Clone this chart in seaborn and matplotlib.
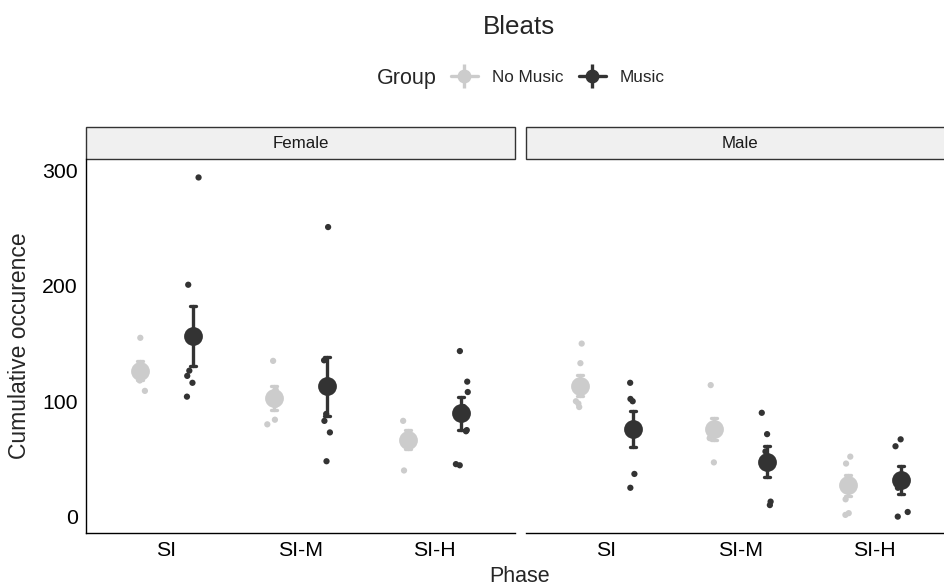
import numpy as np
import pandas as pd
import matplotlib
matplotlib.use("Agg")
import matplotlib.pyplot as plt
import seaborn as sns
from matplotlib.lines import Line2D
from matplotlib.patches import Rectangle

sns.set_style("white")
plt.rcParams['font.family'] = ['Liberation Sans', 'DejaVu Sans']

# ---------------- data ----------------
phases = ["SI", "SI-M", "SI-H"]
sexes = ["Female", "Male"]
groups = ["No Music", "Music"]

# individual observations, one list per phase
female_nomusic = [[155, 130, 124, 118, 109],
                  [135, 110, 104, 97, 84, 80],
                  [83, 73, 68, 62, 40]]
female_music = [[294, 201, 126.5, 122, 116, 104],
                [251, 135.5, 89, 83, 73, 48],
                [143.5, 117, 108, 95, 75, 74, 44.5, 45.5]]
male_nomusic = [[150, 133, 110, 100, 98, 95],
                [114, 80, 75, 68, 47],
                [52, 46, 25, 15, 3, 1.5]]
male_music = [[116, 102, 100, 73, 37, 25],
              [90, 71.5, 56.5, 45, 13, 10],
              [67, 61, 25, 4, 0]]

# group means and standard errors, per phase
female_nomusic_mean = [126.5, 103, 66.5]
female_nomusic_se = [8.5, 10.4, 8.3]
female_music_mean = [156.5, 113, 89.5]
female_music_se = [25.8, 25.5, 14.1]
male_nomusic_mean = [113.5, 76, 27]
male_nomusic_se = [9.3, 9.8, 9]
male_music_mean = [76, 47.5, 32]
male_music_se = [15.5, 13.3, 12]

colors = ["#CCCCCC", "#333333"]
palette = dict(zip(groups, colors))

# ---------------- tables ----------------
raw = {("Female", "No Music"): female_nomusic, ("Female", "Music"): female_music,
       ("Male", "No Music"): male_nomusic, ("Male", "Music"): male_music}
summ = {("Female", "No Music"): (female_nomusic_mean, female_nomusic_se),
        ("Female", "Music"): (female_music_mean, female_music_se),
        ("Male", "No Music"): (male_nomusic_mean, male_nomusic_se),
        ("Male", "Music"): (male_music_mean, male_music_se)}

rows = []
for (s, g), lists in raw.items():
    for p, vals in zip(phases, lists):
        for v in vals:
            rows.append((s, p, g, v))
pts = pd.DataFrame(rows, columns=["Sex", "Phase", "Group", "value"])

rows = []
for (s, g), (m, se) in summ.items():
    for p, mm, ee in zip(phases, m, se):
        rows.append((s, p, g, mm - ee))
        rows.append((s, p, g, mm + ee))
sm = pd.DataFrame(rows, columns=["Sex", "Phase", "Group", "value"])

# ---------------- figure ----------------
FW, FH = 945, 587
fig = plt.figure(figsize=(FW / 100, FH / 100), dpi=100)
top_px, bot_px = 159, 533
W = 429 / FW
H = (bot_px - top_px) / FH
lefts = [86, 526]

np.random.seed(3)
axes = []
for s, lx in zip(sexes, lefts):
    ax = fig.add_axes([lx / FW, 1 - bot_px / FH, W, H])
    axes.append(ax)
    sns.stripplot(data=pts[pts.Sex == s], x="Phase", y="value", hue="Group",
                  order=phases, hue_order=groups, palette=palette, dodge=True,
                  jitter=0.1, size=4.5, linewidth=0, ax=ax, legend=False, zorder=2)
    sns.pointplot(data=sm[sm.Sex == s], x="Phase", y="value", hue="Group",
                  order=phases, hue_order=groups, palette=palette, dodge=0.4,
                  linestyle="none", markers="o", markersize=11.5,
                  errorbar=lambda v: (v.min(), v.max()), capsize=0.045,
                  err_kws={"linewidth": 2.4}, ax=ax, legend=False)
    ax.set_xlim(-0.6, 2.6)
    ax.set_ylim(-14.2, 310)
    ax.set_yticks([0, 100, 200, 300])
    ax.set_xlabel("")
    ax.set_ylabel("")
    for sp in ["top", "right"]:
        ax.spines[sp].set_visible(False)
    ax.spines["bottom"].set_color("black")
    ax.spines["bottom"].set_linewidth(1.0)
    ax.spines["left"].set_color("black")
    ax.spines["left"].set_linewidth(1.0)
    ax.tick_params(axis="both", labelsize=15.3, colors="black", length=3.5,
                   width=1.0, pad=2.5, direction="out")
    ax.tick_params(axis="x", pad=2.5)
    ax.set_facecolor("white")
    # strip
    sh = 32 / (bot_px - top_px)
    ax.add_patch(Rectangle((0, 1), 1, sh, transform=ax.transAxes, clip_on=False,
                           facecolor="#F0F0F0", edgecolor="#333333", linewidth=1.0))
    ax.text(0.5, 1 + sh / 2, s, transform=ax.transAxes, ha="center", va="center",
            fontsize=12.2, color="#1A1A1A")

axes[1].spines["left"].set_visible(False)
axes[1].tick_params(axis="y", left=False, labelleft=False)

# titles
fig.text(519 / FW, 1 - 33.5 / FH, "Bleats", ha="center", va="baseline", fontsize=18.7)
fig.text(20 / FW, 1 - 346 / FH, "Cumulative occurence", rotation=90,
         ha="center", va="center", fontsize=16.5)
fig.text(520 / FW, 1 - 582 / FH, "Phase", ha="center", va="baseline", fontsize=15.5)

# legend
fig.text(377 / FW, 1 - 84 / FH, "Group", ha="left", va="baseline", fontsize=15.5)
handles = []
for c in colors:
    h1 = Line2D([], [], color=c, marker="o", markersize=9, linewidth=2.4)
    h2 = Line2D([], [], color=c, marker="|", markersize=17, markeredgewidth=2.4,
                linestyle="None")
    handles.append((h1, h2))
fig.legend(handles, groups, loc="center left", bbox_to_anchor=(451 / FW, 1 - 77 / FH),
           ncol=2, frameon=False, borderpad=0, borderaxespad=0, handlelength=1.58,
           handletextpad=0.82, columnspacing=0.88, fontsize=12.3)

fig.savefig("out.png", dpi=100)
